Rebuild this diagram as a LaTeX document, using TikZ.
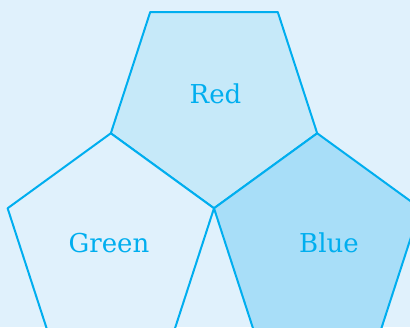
\documentclass[tikz,border=0pt]{standalone}
\usepackage{fontspec}
\setmainfont{DejaVu Serif}
\definecolor{bgc}{HTML}{E0F1FC}
\definecolor{redfill}{HTML}{C6E9F9}
\definecolor{greenfill}{HTML}{E0F1FC}
\definecolor{bluefill}{HTML}{A8DEF8}
\definecolor{edgec}{HTML}{00AEEF}
\begin{document}
\begin{tikzpicture}[x=1pt,y=1pt,
  pent/.style={draw=edgec,line width=2pt,line join=round},
  lbl/.style={text=edgec,anchor=base,inner sep=0pt,font=\fontsize{26}{30}\selectfont}]
\useasboundingbox (0,-327) rectangle (410,0);
\clip (0,-327) rectangle (410,0);
\fill[bgc] (0,-327) rectangle (410,0);
% Red pentagon (pointing down)
\draw[pent,fill=redfill,shift={(214,-99.78)}]
  (-90:108.5) -- (-18:108.5) -- (54:108.5) -- (126:108.5) -- (198:108.5) -- cycle;
% Green pentagon (pointing up)
\draw[pent,fill=greenfill,shift={(110.81,-241.8)}]
  (90:108.5) -- (18:108.5) -- (-54:108.5) -- (-126:108.5) -- (162:108.5) -- cycle;
% Blue pentagon (pointing up)
\draw[pent,fill=bluefill,shift={(317.19,-241.8)}]
  (90:108.5) -- (18:108.5) -- (-54:108.5) -- (-126:108.5) -- (162:108.5) -- cycle;
\node[lbl] (red) at (215.5,-103.3) {Red};
\node[lbl] (green) at (109,-252) {Green};
\node[lbl] (blue) at (329,-252.5) {Blue};
\end{tikzpicture}
\end{document}
